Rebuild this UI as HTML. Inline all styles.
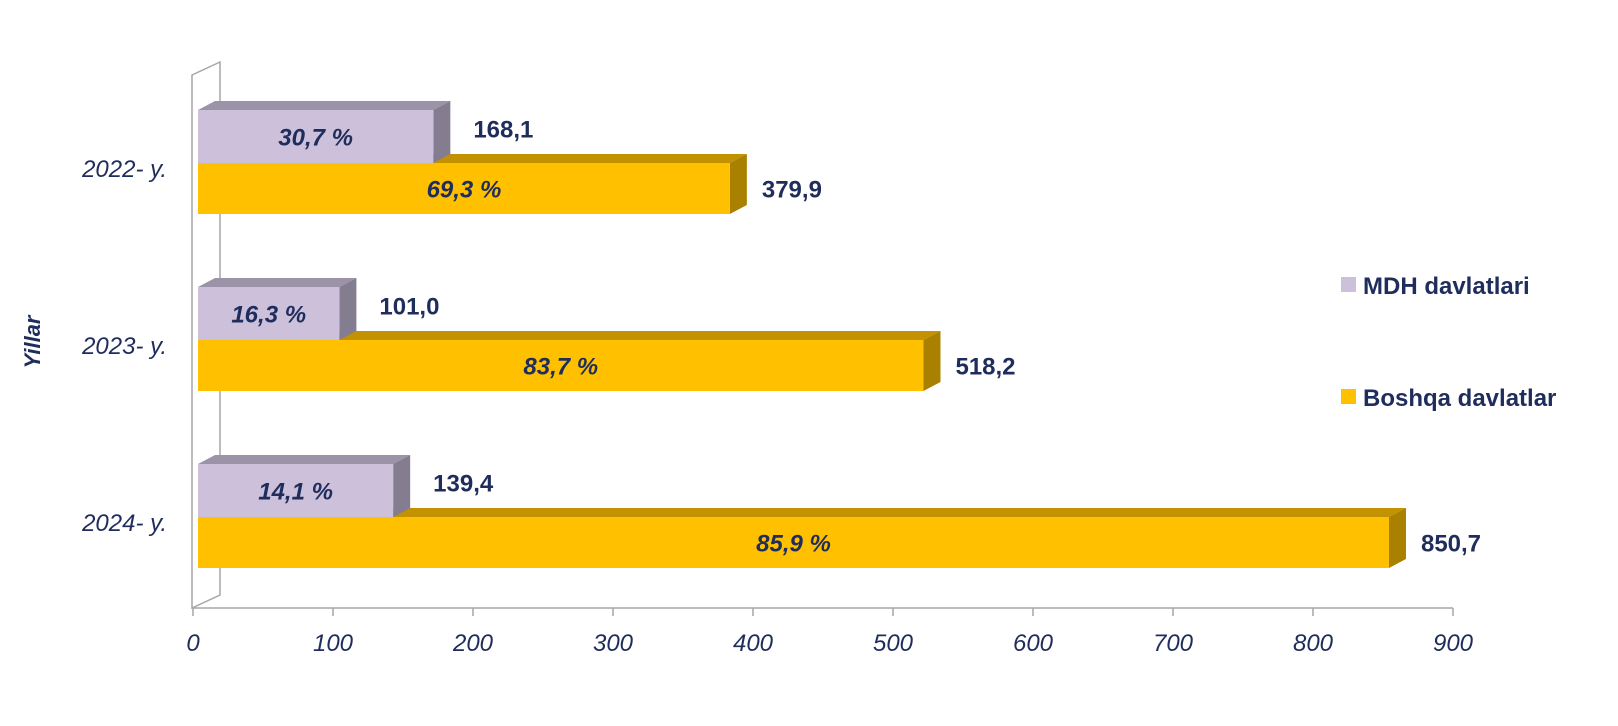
<!DOCTYPE html>
<html><head><meta charset="utf-8"><style>
body{margin:0;background:#fff;}
svg{display:block;font-family:"Liberation Sans",Arial,sans-serif;}
</style></head><body>
<svg id="chart" width="1618" height="726" viewBox="0 0 1618 726">
  <g id="wall" fill="none" stroke="#a6a6a6" stroke-width="1.5">
    <path d="M192,75 L220,62 L220,595 L192,608 Z"/>
  </g>
  <line x1="192" y1="608" x2="1453" y2="608" stroke="#a6a6a6" stroke-width="1.5"/>
  <g id="ticks"></g>
  <g id="bars"></g>
  <text x="40" y="342" transform="rotate(-90 40 342)" text-anchor="middle" font-size="22" font-weight="bold" font-style="italic" fill="#1f2d5c">Yillar</text>
  <g>
    <rect x="1341" y="277" width="15" height="15" fill="#ccc0da"/>
    <text x="1363" y="294" font-size="24" font-weight="bold" fill="#1f2d5c">MDH davlatlari</text>
    <rect x="1341" y="389" width="15" height="15" fill="#ffc000"/>
    <text x="1363" y="406" font-size="24" font-weight="bold" fill="#1f2d5c">Boshqa davlatlar</text>
  </g>
</svg>
<script>
const categories = ["2022- y.", "2023- y.", "2024- y."];
const mdhValues = [168.1, 101.0, 139.4];
const boshqaValues = [379.9, 518.2, 850.7];
const mdhPct = ["30,7 %", "16,3 %", "14,1 %"];
const boshqaPct = ["69,3 %", "83,7 %", "85,9 %"];
const tickValues = [0, 100, 200, 300, 400, 500, 600, 700, 800, 900];

const NS = "http://www.w3.org/2000/svg";
const ticksG = document.getElementById("ticks");
const barsG = document.getElementById("bars");
const tickX = v => 193 + v * 1.4;
const barX = v => 198 + v * 1.4;
const catY = i => 163 + i * 177;
const DX = 17, DY = -9, HP = 53, HO = 51;
const fmt = v => v.toFixed(1).replace(".", ",");

function mk(tag, attrs, parent) {
  const e = document.createElementNS(NS, tag);
  for (const k in attrs) e.setAttribute(k, attrs[k]);
  parent.appendChild(e);
  return e;
}

tickValues.forEach(v => {
  const l = mk("line", {x1: tickX(v), y1: 608, x2: tickX(v), y2: 616, stroke: "#a6a6a6", "stroke-width": 1.5}, ticksG);
  
  
  const t = mk("text", {x: tickX(v), y: 651, "text-anchor": "middle", "font-size": 24, "font-style": "italic", fill: "#1f2d5c"}, ticksG);
  t.textContent = v;
  
  
});

function bar3d(x0, x1, yTop, h, cFront, cTop, cSide, name) {
  const g = mk("g", {}, barsG);
  
  
  mk("polygon", {points: `${x0},${yTop} ${x0+DX},${yTop+DY} ${x1+DX},${yTop+DY} ${x1},${yTop}`, fill: cTop}, g);
  mk("polygon", {points: `${x1},${yTop} ${x1+DX},${yTop+DY} ${x1+DX},${yTop+h+DY} ${x1},${yTop+h}`, fill: cSide}, g);
  mk("rect", {x: x0, y: yTop, width: x1 - x0, height: h, fill: cFront}, g);
}

categories.forEach((c, i) => {
  const b = catY(i);
  const lab = mk("text", {x: 167, y: b + 14, "text-anchor": "end", "font-size": 24, "font-style": "italic", fill: "#1f2d5c"}, barsG);
  lab.textContent = c;
  
  

  // orange (drawn first so purple bar overlaps its top)
  const ox1 = barX(boshqaValues[i]);
  bar3d(barX(0), ox1, b, HO, "#ffc000", "#c29200", "#a98000", "bar-boshqa");
  const mx1 = barX(mdhValues[i]);
  bar3d(barX(0), mx1, b - HP, HP, "#ccc0da", "#9d93a8", "#847c8f", "bar-mdh");

  const tp = mk("text", {x: (barX(0) + mx1) / 2, y: b - HP / 2 + 9, "text-anchor": "middle", "font-size": 24, "font-weight": "bold", "font-style": "italic", fill: "#1f2d5c"}, barsG);
  tp.textContent = mdhPct[i];
  
  
  const tv = mk("text", {x: mx1 + 40, y: b - HP / 2 + 1, "font-size": 24, "font-weight": "bold", fill: "#1f2d5c"}, barsG);
  tv.textContent = fmt(mdhValues[i]);
  
  

  const op = mk("text", {x: (barX(0) + ox1) / 2, y: b + HO / 2 + 9, "text-anchor": "middle", "font-size": 24, "font-weight": "bold", "font-style": "italic", fill: "#1f2d5c"}, barsG);
  op.textContent = boshqaPct[i];
  
  
  const ov = mk("text", {x: ox1 + 32, y: b + HO / 2 + 9, "font-size": 24, "font-weight": "bold", fill: "#1f2d5c"}, barsG);
  ov.textContent = fmt(boshqaValues[i]);
  
  
});
</script>
</body></html>
